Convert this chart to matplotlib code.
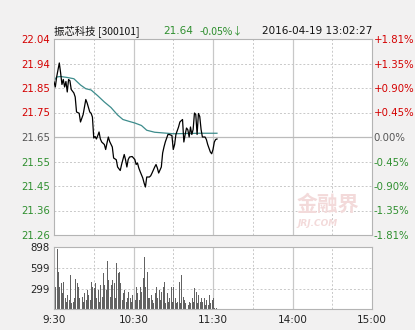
import matplotlib.pyplot as plt

stock_name = '振芯科技'
stock_code = '300101'
last_price = '21.64'
change_pct = '-0.05%↓'
timestamp = '2016-04-19 13:02:27'
pre_close = 21.65

price_labels = ['22.04', '21.94', '21.85', '21.75', '21.65', '21.55', '21.45', '21.36', '21.26']
pct_labels = ['+1.81%', '+1.35%', '+0.90%', '+0.45%', '0.00%', '-0.45%', '-0.90%', '-1.35%', '-1.81%']
time_labels = ['9:30', '10:30', '11:30', '14:00', '15:00']
vol_labels = ['299', '599', '898']

# minutes after 9:30
price_minutes = [0, 1, 2, 4, 5, 6, 7, 8, 9, 10, 11, 12, 13, 15, 16, 17, 19, 20, 22, 24,
                 25, 27, 28, 29, 30, 31, 32, 33, 34, 35, 36, 38, 39, 40, 41, 42, 44, 45, 47, 48,
                 50, 51, 53, 54, 55, 56, 57, 59, 60, 61, 62, 63, 64, 65, 67, 68, 69, 70, 72, 73,
                 74, 76, 77, 78, 79, 81, 82, 83, 84, 86, 87, 89, 90, 91, 92, 94, 95, 97, 98, 99,
                 100, 101, 102, 103, 104, 105, 106, 107, 108, 109, 110, 111, 112, 114, 115, 116,
                 118, 119, 120, 121, 122, 123]
prices = [21.87, 21.85, 21.89, 21.946, 21.906, 21.86, 21.88, 21.85, 21.872, 21.83, 21.88, 21.875,
          21.84, 21.826, 21.81, 21.75, 21.745, 21.71, 21.74, 21.80, 21.786, 21.75, 21.745, 21.73,
          21.646, 21.652, 21.642, 21.655, 21.67, 21.642, 21.63, 21.62, 21.60, 21.626, 21.65,
          21.632, 21.61, 21.566, 21.559, 21.53, 21.516, 21.54, 21.58, 21.559, 21.53, 21.56, 21.57,
          21.572, 21.566, 21.56, 21.54, 21.546, 21.526, 21.512, 21.486, 21.466, 21.45, 21.49,
          21.49, 21.495, 21.506, 21.53, 21.54, 21.526, 21.506, 21.53, 21.586, 21.61, 21.63, 21.66,
          21.66, 21.656, 21.60, 21.619, 21.66, 21.69, 21.71, 21.72, 21.63, 21.66, 21.686, 21.679,
          21.65, 21.69, 21.66, 21.68, 21.746, 21.74, 21.66, 21.744, 21.732, 21.68, 21.65, 21.65,
          21.64, 21.62, 21.59, 21.583, 21.60, 21.63, 21.64, 21.642]

avg_minutes = [0, 2, 5, 10, 15, 20, 24, 28, 33, 38, 43, 48, 52, 57, 61, 66, 70, 76, 83, 90,
               100, 110, 123]
avg_prices = [21.875, 21.89, 21.892, 21.888, 21.883, 21.858, 21.843, 21.838, 21.815, 21.79,
              21.768, 21.738, 21.72, 21.712, 21.706, 21.696, 21.677, 21.669, 21.666, 21.663,
              21.664, 21.665, 21.665]

# one bar per minute, 9:30 .. 11:32
volumes = [642, 328, 870, 546, 328, 377, 232, 401, 160, 111, 208, 135, 498, 87, 111, 160,
           435, 377, 328, 160, 425, 184, 111, 232, 135, 280, 208, 135, 401, 328, 304, 377,
           160, 280, 111, 353, 184, 522, 353, 280, 700, 425, 184, 353, 425, 377, 160, 667,
           522, 546, 377, 135, 232, 280, 111, 160, 256, 160, 111, 208, 87, 135, 328, 232,
           135, 328, 256, 449, 763, 328, 546, 160, 160, 208, 135, 87, 232, 328, 160, 280,
           135, 256, 328, 401, 87, 232, 111, 160, 328, 111, 328, 160, 87, 111, 400, 87,
           497, 184, 135, 87, 160, 63, 111, 87, 160, 111, 304, 256, 87, 208, 111, 160,
           111, 160, 63, 135, 63, 208, 87, 135, 160, 24, 24]

W, H = 415, 330
bg = '#f2f1f1'
red = '#d40000'
green = '#2f8f2f'
grid_c = '#c8c8c8'

fig = plt.figure(figsize=(W / 100, H / 100), dpi=100, facecolor=bg)
ax = fig.add_axes([54 / W, 1 - 235 / H, 318 / W, 196 / H])
axv = fig.add_axes([54 / W, 1 - 309.3 / H, 318 / W, 62 / H])

span = pre_close * 0.0181
ylo, yhi = pre_close - span, pre_close + span
yticks = [yhi - i * (yhi - ylo) / 8 for i in range(9)]

for a in (ax, axv):
    a.set_facecolor('white')
    a.set_xlim(0, 240)
    for s in a.spines.values():
        s.set_color('#b4b4b4')
        s.set_linewidth(0.8)
    for m in (30, 90, 150, 210):
        a.axvline(m, color=grid_c, lw=0.7, ls=(0, (2, 2)), zorder=0)
    for m in (60, 120, 180):
        a.axvline(m, color=grid_c, lw=0.9, zorder=0)
    a.tick_params(length=0)

# price panel
ax.set_ylim(ylo, yhi)
for i, yv in enumerate(yticks[1:-1], start=1):
    if i == 4:
        ax.axhline(yv, color='#bbbbbb', lw=0.9, zorder=0)
    else:
        ax.axhline(yv, color=grid_c, lw=0.7, ls=(0, (2, 2)), zorder=0)
ax.plot(avg_minutes, avg_prices, color='#3d8c8c', lw=0.9, zorder=2)
ax.plot(price_minutes, prices, color='black', lw=0.9, zorder=3)
ax.set_xticks([])
ax.set_yticks(yticks)
ax.set_yticklabels(price_labels, fontsize=7.3)
ax.tick_params(axis='y', pad=3)
for i, t in enumerate(ax.get_yticklabels()):
    t.set_color(red if i < 4 else ('#555555' if i == 4 else green))

axr = ax.twinx()
axr.set_ylim(ylo, yhi)
axr.set_yticks(yticks)
axr.set_yticklabels(pct_labels, fontsize=7.3)
axr.tick_params(length=0, pad=1)
for s in axr.spines.values():
    s.set_visible(False)
for i, t in enumerate(axr.get_yticklabels()):
    t.set_color(red if i < 4 else ('#555555' if i == 4 else green))

# watermark
ax.text(0.86, 0.155, '金融界', transform=ax.transAxes, ha='center', va='center',
        fontsize=15, fontweight='bold', color='#f3dada', family=['Noto Sans CJK SC', 'DejaVu Sans'],
        zorder=1)
ax.text(0.83, 0.06, 'JRJ.COM', transform=ax.transAxes, ha='center', va='center',
        fontsize=6.5, fontstyle='italic', fontweight='bold', color='#f3dada', zorder=1)

# volume panel
axv.bar(range(len(volumes)), volumes, width=0.75, color='#626262', align='edge', zorder=2)
axv.set_ylim(0, 898)
for v in (299, 599):
    axv.axhline(v, color=grid_c, lw=0.7, ls=(0, (2, 2)), zorder=0)
axv.set_yticks([299, 599, 898])
axv.set_yticklabels(vol_labels, fontsize=7.3, color='#222222')
axv.tick_params(axis='y', pad=3)
axv.set_xticks([0, 60, 120, 180, 240])
axv.set_xticklabels(time_labels, fontsize=7.5, color='#222222')
axv.tick_params(axis='x', pad=4)

# header line
cjk = ['Noto Sans CJK SC', 'DejaVu Sans']
ty = 1 - 31 / H
fig.text(54 / W, ty, f'{stock_name} [{stock_code}]', fontsize=7.5, va='center', family=cjk, color='#111111')
fig.text(163 / W, ty, last_price, fontsize=7.5, va='center', color=green)
fig.text(200 / W, ty, change_pct, fontsize=7.5, va='center', color=green, family=cjk)
fig.text(262 / W, ty, timestamp, fontsize=7.5, va='center', color='#111111')

fig.savefig('out.png', dpi=100, facecolor=bg)
